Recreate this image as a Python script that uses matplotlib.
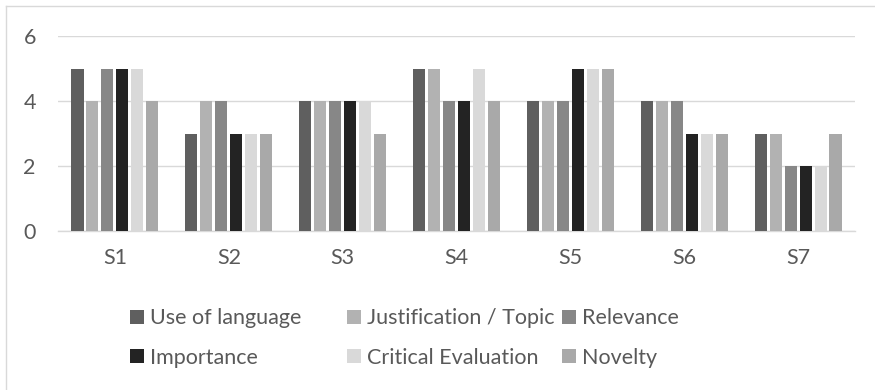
import matplotlib
matplotlib.use("Agg")
import matplotlib.pyplot as plt
import numpy as np
from matplotlib.lines import Line2D

categories = ["S1", "S2", "S3", "S4", "S5", "S6", "S7"]
series_names = ["Use of language", "Justification / Topic", "Relevance",
                "Importance", "Critical Evaluation", "Novelty"]
use_of_language = [5, 3, 4, 5, 4, 4, 3]
justification = [4, 4, 4, 5, 4, 4, 3]
relevance = [5, 4, 4, 4, 4, 4, 2]
importance = [5, 3, 4, 4, 5, 3, 2]
critical_eval = [5, 3, 4, 5, 5, 3, 2]
novelty = [4, 3, 3, 4, 5, 3, 3]
colors = ["#5f5f5f", "#b2b2b2", "#878787", "#232323", "#d9d9d9", "#a9a9a9"]
series = [use_of_language, justification, relevance, importance, critical_eval, novelty]

plt.rcParams['font.family'] = ['Lato', 'DejaVu Sans']
txt = "#595959"
W, H = 875, 390
fs = 15.5

fig = plt.figure(figsize=(8.75, 3.9), dpi=100)
ax = fig.add_axes([58/W, 1 - 231/H, (855-58)/W, (231-36)/H])

x = np.arange(len(categories))
step = 0.1316
width = 0.106
handles = []
for i, (vals, c, name) in enumerate(zip(series, colors, series_names)):
    b = ax.bar(x + (i - 2.5) * step, vals, width, color=c, label=name, zorder=3)
    handles.append(b)

ax.set_xlim(-0.5, len(categories) - 0.5)
ax.set_ylim(0, 6)
ax.set_yticks([0, 2, 4, 6])
ax.yaxis.grid(True, color="#d9d9d9", linewidth=1, zorder=0)
for s in ["top", "right", "left"]:
    ax.spines[s].set_visible(False)
ax.spines["bottom"].set_color("#d9d9d9")
ax.spines["bottom"].set_linewidth(1)
ax.tick_params(axis="both", length=0, labelsize=fs, colors=txt)
ax.tick_params(axis="x", pad=12)
ax.tick_params(axis="y", pad=16)
ax.set_xticks(x)
ax.set_xticklabels(categories)

col_x = [130, 347, 562]
for col in range(3):
    idx = [col, col + 3]
    leg = fig.legend([handles[i] for i in idx], [series_names[i] for i in idx],
                     loc="center left", bbox_to_anchor=(col_x[col]/W, 1 - 338/H),
                     frameon=False, fontsize=fs, labelcolor=txt,
                     handlelength=0.65, handleheight=0.65, handletextpad=0.3,
                     labelspacing=0.9, borderpad=0, borderaxespad=0)

fig.add_artist(Line2D([6/W, 1.0], [1 - 6/H, 1 - 6/H], transform=fig.transFigure,
                      color="#d9d9d9", linewidth=1))
fig.add_artist(Line2D([6/W, 6/W], [0.0, 1 - 6/H], transform=fig.transFigure,
                      color="#d9d9d9", linewidth=1))

fig.savefig("out.png", dpi=100)
